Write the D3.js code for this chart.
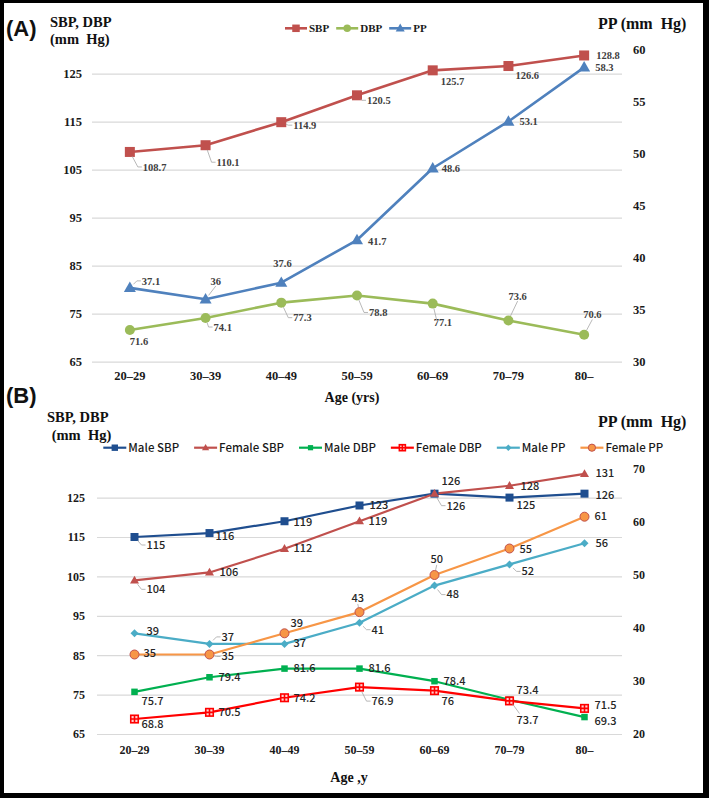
<!DOCTYPE html>
<html><head><meta charset="utf-8">
<script src="https://cdn.jsdelivr.net/npm/d3@7"></script>
<style>body{margin:0;background:#fff} svg{display:block} text{white-space:pre}</style>
</head><body><svg id="c" width="709" height="798"></svg>
<script>
// ---------- DATA ----------
const ages = ["20–29","30–39","40–49","50–59","60–69","70–79","80–"];
// Panel A
const sbpA = [108.7,110.1,114.9,120.5,125.7,126.6,128.8];
const dbpA = [71.6,74.1,77.3,78.8,77.1,73.6,70.6];
const ppA  = [37.1,36,37.6,41.7,48.6,53.1,58.3];
const leftTicksA  = [65,75,85,95,105,115,125];
const rightTicksA = [30,35,40,45,50,55,60];
// Panel B
const maleSBP   = [115,116,119,123,126,125,126];
const femaleSBP = [104,106,112,119,126,128,131];
const maleDBP   = [75.7,79.4,81.6,81.6,78.4,73.7,69.3];
const femaleDBP = [68.8,70.5,74.2,76.9,76,73.4,71.5];
const malePP    = [39,37,37,41,48,52,56];
const femalePP  = [35,35,39,43,50,55,61];
const leftTicksB  = [65,75,85,95,105,115,125];
const rightTicksB = [20,30,40,50,60,70];

// ---------- LABEL PLACEMENT (dx, dy from marker, leader type) ----------
const labSbpA = [[13,15,"l"],[11,17,"l"],[12,3,"l"],[10,5,"l"],[8,11,""],[7,9,""],[12,0,""]];
const labDbpA = [[0,11,""],[8,9,"l"],[12,15,"l"],[12,17,"l"],[1,19,"t"],[0,-24,"b"],[-1,-20,"b"]];
const labPpA  = [[12,-7,"l"],[5,-18,"b"],[-8,-19,""],[11,1,""],[9,0,""],[11,0,""],[11,0,""]];
const labMaleSBP   = [[12,8,"l"],[6,3,""],[9,1,""],[10,0,""],[7,-13,""],[7,8,""],[11,1,""]];
const labFemaleSBP = [[12,9,"l"],[10,0,""],[9,-1,""],[9,0,""],[12,12,"l"],[11,0,""],[11,-1,""]];
const labMaleDBP   = [[7,9,""],[9,0,""],[9,0,""],[9,0,""],[9,0,""],[7,20,"t"],[10,4,""]];
const labFemaleDBP = [[7,5,""],[9,0,""],[9,0,""],[12,14,"l"],[7,10,""],[7,-11,""],[10,-3,""]];
const labMalePP    = [[12,-2,""],[12,-7,"l"],[9,-1,""],[12,7,"l"],[12,9,"l"],[12,7,"l"],[11,0,""]];
const labFemalePP  = [[9,-1,""],[12,2,"l"],[6,-10,""],[-8,-14,"b"],[-4,-16,"b"],[10,1,""],[10,-1,""]];

// ---------- SETUP ----------
const SERIF = "'Liberation Serif','Times New Roman',serif";
const SANS  = "'Liberation Sans',Arial,sans-serif";
const KR    = "'Noto Sans CJK KR','Noto Sans',sans-serif";
const svg = d3.select("#c");
svg.append("rect").attr("width",709).attr("height",798).attr("fill","#000");
svg.append("rect").attr("x",4).attr("y",3).attr("width",699).attr("height",790).attr("fill","#fff");

function marker(g, type, cx, cy, s, color, stroke) {
  if (type === "square") {
    g.append("rect").attr("x",cx-s/2).attr("y",cy-s/2).attr("width",s).attr("height",s).attr("fill",color);
  } else if (type === "circle") {
    g.append("circle").attr("cx",cx).attr("cy",cy).attr("r",s/2).attr("fill",color)
      .attr("stroke",stroke||"none").attr("stroke-width",stroke?1:0);
  } else if (type === "triangle") {
    const h = s*0.87;
    g.append("path").attr("d",`M${cx},${cy-h*0.6}L${cx+s/2},${cy+h*0.4}L${cx-s/2},${cy+h*0.4}Z`).attr("fill",color);
  } else if (type === "diamond") {
    g.append("path").attr("d",`M${cx},${cy-s/2}L${cx+s/2},${cy}L${cx},${cy+s/2}L${cx-s/2},${cy}Z`).attr("fill",color);
  } else if (type === "plussq") {
    g.append("rect").attr("x",cx-s/2).attr("y",cy-s/2).attr("width",s).attr("height",s)
      .attr("fill","#FFD0D0").attr("stroke",color).attr("stroke-width",1.6);
    g.append("path").attr("d",`M${cx-s/2},${cy}H${cx+s/2}M${cx},${cy-s/2}V${cy+s/2}`)
      .attr("stroke",color).attr("stroke-width",1.6);
  }
}

function panel(p) {
  const x = d3.scaleBand().domain(ages).range([p.x0, p.x1]);
  const cx = a => x(a) + x.bandwidth()/2;
  const yL = d3.scaleLinear().domain(p.leftDomain).range(p.leftRange);
  const yR = d3.scaleLinear().domain(p.rightDomain).range(p.rightRange);
  const g = svg.append("g");

  // gridlines
  g.append("g").attr("transform",`translate(${p.x0},0)`)
    .call(d3.axisLeft(yL).tickValues(p.leftTicks).tickSize(-(p.x1-p.x0)).tickFormat(""))
    .call(s => s.select(".domain").remove())
    .selectAll("line").attr("stroke","#D9D9D9").attr("stroke-width",1.2);

  const styleAxis = s => {
    s.select(".domain").remove();
    s.attr("font-family",SERIF).attr("font-size",p.tickFont).attr("font-weight","bold");
    s.selectAll("text").attr("fill","#1a1a1a");
  };
  g.append("g").attr("transform",`translate(${p.x0},0)`)
    .call(d3.axisLeft(yL).tickValues(p.leftTicks).tickSize(0).tickPadding(p.leftPad)).call(styleAxis);
  g.append("g").attr("transform",`translate(${p.x1},0)`)
    .call(d3.axisRight(yR).tickValues(p.rightTicks).tickSize(0).tickPadding(p.rightPad)).call(styleAxis);
  g.append("g").attr("transform",`translate(0,${p.leftRange[0]})`)
    .call(d3.axisBottom(x).tickSize(0)).call(styleAxis)
    .selectAll("text").attr("y",p.xLabelDy).attr("dy","0.35em");

  // series
  const lineG = g.append("g"), markG = g.append("g"), labG = g.append("g"), leadG = g.append("g");
  p.series.forEach(s => {
    const y = s.axis === "L" ? yL : yR;
    lineG.append("path").datum(s.values)
      .attr("d", d3.line().x((d,i)=>cx(ages[i])).y(d=>y(d)))
      .attr("fill","none").attr("stroke",s.color).attr("stroke-width",s.width).attr("stroke-linejoin","round");
  });
  p.series.forEach(s => {
    const y = s.axis === "L" ? yL : yR;
    s.values.forEach((v,i) => {
      const mx = cx(ages[i]), my = y(v);
      marker(markG, s.marker, mx, my, s.size, s.markerColor||s.color, s.markerStroke);
      const [dx,dy,lt] = s.labels[i];
      const t = labG.append("text").attr("x",mx+dx).attr("y",my+dy).attr("dy","0.35em")
        .attr("font-family",p.labFont).attr("font-size",p.labSize).attr("font-weight",p.labWeight)
        .attr("fill",p.labColor).text(String(v));
      if (lt) {
        const b = t.node().getBBox();
        const midY = my+dy;
        let tx, ty, pts;
        if (lt === "l") { tx = b.x - 5; ty = midY; }
        else if (lt === "b") { tx = b.x + b.width/2; ty = b.y + b.height - 1; }
        else { tx = b.x + 3; ty = b.y + 3; }
        const vx = tx - mx, vy = ty - my, L = Math.hypot(vx,vy) || 1;
        const sx = mx + vx/L*5, sy = my + vy/L*5;
        if (lt === "l") pts = [[sx,sy],[tx,ty],[b.x-1,ty]];
        else pts = [[sx,sy],[tx,ty]];
        if (L > 6) leadG.append("path").attr("d", d3.line()(pts))
          .attr("fill","none").attr("stroke","#A6A6A6").attr("stroke-width",0.8);
      }
    });
  });

  // legend
  let lx = p.legend.x0;
  const lg = g.append("g");
  p.series.forEach(s => {
    lg.append("line").attr("x1",lx).attr("x2",lx+p.legend.lineLen).attr("y1",p.legend.y).attr("y2",p.legend.y)
      .attr("stroke",s.color).attr("stroke-width",s.width);
    marker(lg, s.marker, lx+p.legend.lineLen/2, p.legend.y, s.size*p.legend.mScale, s.markerColor||s.color, s.markerStroke);
    const t = lg.append("text").attr("x",lx+p.legend.lineLen+2).attr("y",p.legend.y).attr("dy","0.35em")
      .attr("font-family",p.legend.font).attr("font-size",p.legend.size).attr("font-weight",p.legend.weight)
      .attr("fill","#1a1a1a").text(s.name);
    lx += p.legend.lineLen + 2 + t.node().getComputedTextLength() + p.legend.gap;
  });
}

panel({
  x0:92, x1:622, leftDomain:[65,125], leftRange:[361.7,73.7], rightDomain:[30,60], rightRange:[361.7,49.7],
  leftTicks:leftTicksA, rightTicks:rightTicksA, leftPad:10, rightPad:11, tickFont:12.5, xLabelDy:13.5,
  labFont:SERIF, labSize:10.5, labWeight:"bold", labColor:"#404040",
  legend:{x0:285, y:28.3, lineLen:22, gap:7, font:SERIF, size:11, weight:"bold", mScale:0.75},
  series:[
    {name:"SBP", values:sbpA, axis:"L", color:"#C0504D", width:2.6, marker:"square", size:10, labels:labSbpA},
    {name:"DBP", values:dbpA, axis:"L", color:"#9BBB59", width:2.6, marker:"circle", size:10, labels:labDbpA},
    {name:"PP",  values:ppA,  axis:"R", color:"#4F81BD", width:2.6, marker:"triangle", size:12, labels:labPpA}
  ]
});

panel({
  x0:97, x1:622, leftDomain:[65,125], leftRange:[734,497.6], rightDomain:[20,70], rightRange:[734,469],
  leftTicks:leftTicksB, rightTicks:rightTicksB, leftPad:12, rightPad:11, tickFont:12, xLabelDy:15.3,
  labFont:KR, labSize:11, labWeight:"500", labColor:"#262626",
  legend:{x0:103.3, y:447.7, lineLen:23, gap:15, font:KR, size:11.5, weight:"500", mScale:0.8},
  series:[
    {name:"Male SBP",   values:maleSBP,   axis:"L", color:"#1F4E8F", width:2.2, marker:"square",   size:8, labels:labMaleSBP},
    {name:"Female SBP", values:femaleSBP, axis:"L", color:"#C0504D", width:2.2, marker:"triangle", size:9, labels:labFemaleSBP},
    {name:"Male DBP",   values:maleDBP,   axis:"L", color:"#00B050", width:2.2, marker:"square",   size:6.5, labels:labMaleDBP},
    {name:"Female DBP", values:femaleDBP, axis:"L", color:"#FF0000", width:2.2, marker:"plussq",   size:7.5, labels:labFemaleDBP},
    {name:"Male PP",    values:malePP,    axis:"R", color:"#4BACC6", width:2.2, marker:"diamond",  size:8, labels:labMalePP},
    {name:"Female PP",  values:femalePP,  axis:"R", color:"#F79646", width:2.2, marker:"circle",   size:9, markerStroke:"#C0504D", labels:labFemalePP}
  ]
});

// ---------- TITLES ----------
function txt(x,y,s,font,size,anchor,weight) {
  svg.append("text").attr("x",x).attr("y",y).attr("dy","0.35em").attr("text-anchor",anchor||"start")
    .attr("font-family",font).attr("font-size",size).attr("font-weight",weight||"bold").attr("fill","#111").text(s);
}
txt(6,28,"(A)",SANS,22);
txt(50,21.7,"SBP, DBP",SERIF,14.5);
txt(50,39,"(mm  Hg)",SERIF,14.5);
txt(598,23,"PP (mm  Hg)",SERIF,16);
txt(352,396.7,"Age (yrs)",SERIF,14,"middle");
txt(6,395,"(B)",SANS,22);
txt(47,416.7,"SBP, DBP",SERIF,14.5);
txt(51.7,435,"(mm  Hg)",SERIF,14.5);
txt(598,421.7,"PP (mm  Hg)",SERIF,16);
txt(349,776.7,"Age ,y",SERIF,14,"middle");
</script></body></html>
